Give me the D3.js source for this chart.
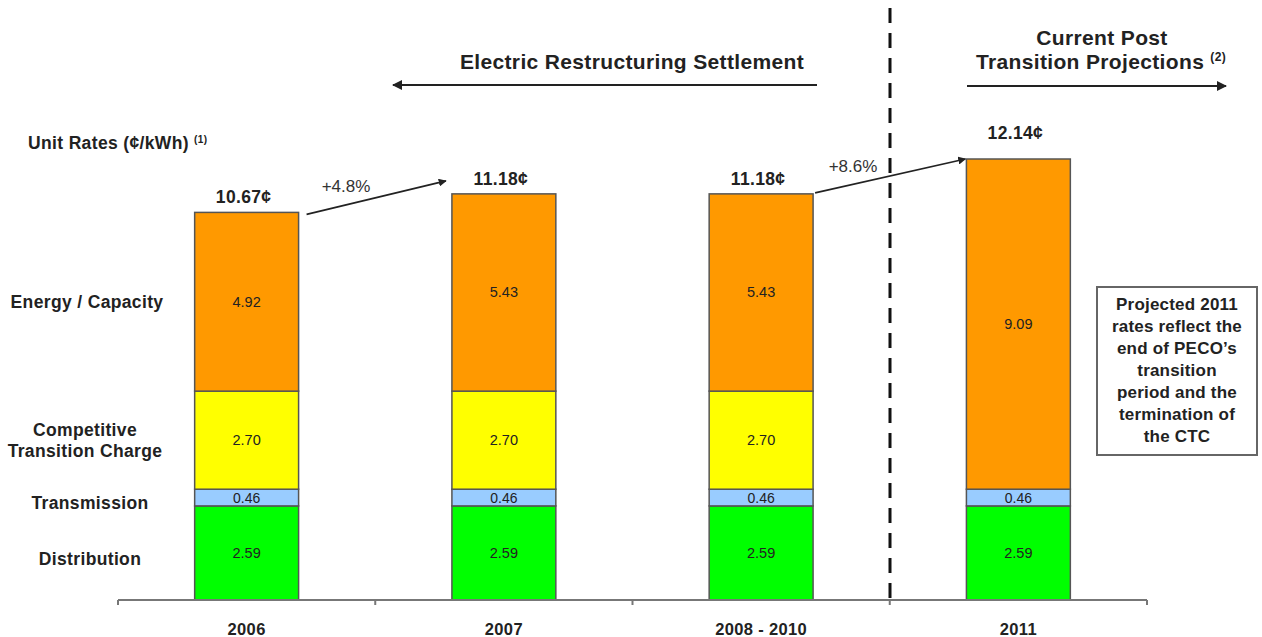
<!DOCTYPE html>
<html>
<head>
<meta charset="utf-8">
<script src="https://cdn.jsdelivr.net/npm/d3@7"></script>
<style>
  body { margin: 0; background: #fff; }
  svg { display: block; font-family: "Liberation Sans", Arial, sans-serif; }
</style>
</head>
<body>
<svg id="chart" width="1262" height="637"></svg>
<script>
// Unit rates (cents/kWh) by component
const categories = ["2006", "2007", "2008 - 2010", "2011"];
const distribution = [2.59, 2.59, 2.59, 2.59];
const transmission = [0.46, 0.46, 0.46, 0.46];
const ctc = [2.70, 2.70, 2.70, 0];
const energy = [4.92, 5.43, 5.43, 9.09];
const totals = ["10.67¢", "11.18¢", "11.18¢", "12.14¢"];
const changes = ["+4.8%", "+8.6%"];
const rowLabels = [["Energy / Capacity"], ["Competitive", "Transition Charge"], ["Transmission"], ["Distribution"]];
const noteLines = ["Projected 2011", "rates reflect the", "end of PECO\u2019s", "transition", "period and the", "termination of", "the CTC"];

const keys = ["distribution", "transmission", "ctc", "energy"];
const colors = { distribution: "#00FF00", transmission: "#99CCFF", ctc: "#FFFF00", energy: "#FF9900" };

const rows = categories.map((c, i) => ({
  cat: c,
  distribution: distribution[i],
  transmission: transmission[i],
  ctc: ctc[i],
  energy: energy[i]
}));

const svg = d3.select("#chart");
const baseY = 600;
const ink = "#222";
const boldLs = "0.35px"; // bold labels in the original are set a touch wide

const x = d3.scaleBand().domain(categories).range([118, 1147]).paddingInner(0.596).paddingOuter(0.298);
const y = d3.scaleLinear().domain([0, 12.14]).range([baseY, 159]);

const stack = d3.stack().keys(keys)(rows);

// bars
const layers = svg.append("g").selectAll("g").data(stack).join("g")
  .attr("fill", (d) => colors[d.key]);

layers.selectAll("rect").data((d) => d.filter((s) => s[1] - s[0] > 0)).join("rect")
  .attr("x", (d) => x(d.data.cat))
  .attr("y", (d) => y(d[1]))
  .attr("width", x.bandwidth())
  .attr("height", (d) => y(d[0]) - y(d[1]))
  .attr("stroke", "#555")
  .attr("stroke-width", 1.5);

// segment values
stack.forEach((layer) => {
  svg.append("g").selectAll("text").data(layer.filter((s) => s[1] - s[0] > 0)).join("text")
    .attr("x", (d) => x(d.data.cat) + x.bandwidth() / 2)
    .attr("y", (d) => (y(d[0]) + y(d[1])) / 2 + 5)
    .attr("text-anchor", "middle")
    .attr("font-size", layer.key === "transmission" ? 14 : 14.5)
    .attr("fill", ink)
    .text((d) => (d[1] - d[0]).toFixed(2));
});

// axis
const axisG = svg.append("g").attr("transform", `translate(0,${baseY})`);
axisG.append("line").attr("x1", 118).attr("x2", 1147).attr("stroke", "#777").attr("stroke-width", 2);
const step = x.step();
d3.range(5).forEach((k) => {
  const tx = 118 + k * step;
  axisG.append("line").attr("x1", tx).attr("x2", tx).attr("y1", 0).attr("y2", 5)
    .attr("stroke", "#777").attr("stroke-width", 2);
});
axisG.selectAll("text.tick").data(categories).join("text")
  .attr("class", "tick")
  .attr("x", (d) => x(d) + x.bandwidth() / 2)
  .attr("y", 35)
  .attr("text-anchor", "middle")
  .attr("font-size", 16.5).attr("font-weight", "bold").attr("fill", ink)
  .attr("letter-spacing", boldLs)
  .text((d) => d);

// totals
const totalVals = rows.map((r) => r.distribution + r.transmission + r.ctc + r.energy);
svg.append("g").selectAll("text").data(categories).join("text")
  .attr("x", (d) => x(d) + x.bandwidth() / 2 - 3)
  .attr("y", (d, i) => y(totalVals[i]) - (i === 3 ? 20 : 9))
  .attr("text-anchor", "middle")
  .attr("font-size", 17.5).attr("font-weight", "bold").attr("fill", ink)
  .attr("letter-spacing", boldLs)
  .text((d, i) => totals[i]);

// arrow markers
const defs = svg.append("defs");
defs.append("marker").attr("id", "ah").attr("viewBox", "0 0 10 10")
  .attr("refX", 9).attr("refY", 5).attr("markerWidth", 5).attr("markerHeight", 5)
  .attr("orient", "auto-start-reverse").attr("markerUnits", "strokeWidth")
  .append("path").attr("d", "M0,0L10,5L0,10z").attr("fill", ink);

// growth arrows
const growth = [
  { from: 0, to: 1, label: changes[0], dy1: -2, dy2: 13, lx: 346, ly: 192 },
  { from: 2, to: 3, label: changes[1], dy1: 1, dy2: 0, lx: 853, ly: 172 }
];
growth.forEach((g) => {
  const x1 = x(categories[g.from]) + x.bandwidth() + (g.from === 0 ? 8 : 2);
  const y1 = y(totalVals[g.from]) - g.dy1;
  const x2 = x(categories[g.to]) - (g.from === 0 ? 6 : 1);
  const y2 = y(totalVals[g.to]) - g.dy2;
  svg.append("line").attr("x1", x1).attr("y1", y1).attr("x2", x2).attr("y2", y2)
    .attr("stroke", ink).attr("stroke-width", 1.6).attr("marker-end", "url(#ah)");
  svg.append("text").attr("x", g.lx).attr("y", g.ly).attr("text-anchor", "middle")
    .attr("font-size", 17).attr("fill", "#333").text(g.label);
});

// divider
svg.append("line").attr("x1", 890).attr("x2", 890).attr("y1", 8).attr("y2", 606)
  .attr("stroke", "#111").attr("stroke-width", 3).attr("stroke-dasharray", "15,10");

// period headers
svg.append("text").attr("x", 632).attr("y", 69).attr("text-anchor", "middle")
  .attr("font-size", 21).attr("font-weight", "bold").attr("fill", ink)
  .attr("letter-spacing", boldLs)
  .text("Electric Restructuring Settlement");
svg.append("line").attr("x1", 817).attr("x2", 393).attr("y1", 85).attr("y2", 85)
  .attr("stroke", ink).attr("stroke-width", 2).attr("marker-end", "url(#ah)");

svg.append("text").attr("x", 1102).attr("y", 45).attr("text-anchor", "middle")
  .attr("font-size", 21).attr("font-weight", "bold").attr("fill", ink)
  .attr("letter-spacing", boldLs)
  .text("Current Post");
const t2 = svg.append("text").attr("x", 1101).attr("y", 69).attr("text-anchor", "middle")
  .attr("font-size", 21).attr("font-weight", "bold").attr("fill", ink)
  .attr("letter-spacing", boldLs);
t2.append("tspan").text("Transition Projections ");
t2.append("tspan").attr("font-size", 12).attr("dy", -8).text("(2)");
svg.append("line").attr("x1", 967).attr("x2", 1226).attr("y1", 86).attr("y2", 86)
  .attr("stroke", ink).attr("stroke-width", 2).attr("marker-end", "url(#ah)");

// unit label
const ut = svg.append("text").attr("x", 28).attr("y", 149)
  .attr("font-size", 17.5).attr("font-weight", "bold").attr("fill", ink)
  .attr("letter-spacing", boldLs);
ut.append("tspan").text("Unit Rates (¢/kWh) ");
ut.append("tspan").attr("font-size", 10).attr("dy", -6).text("(1)");

// row labels, centred on the 2006 segments
const rowKeys = ["energy", "ctc", "transmission", "distribution"];
const rowCx = [87, 85, 90, 90];
const rowShift = { energy: 0, ctc: 0, transmission: 5, distribution: 6 };
rowLabels.forEach((lines, i) => {
  const seg = stack.find((s) => s.key === rowKeys[i])[0];
  const cy = (y(seg[0]) + y(seg[1])) / 2;
  const t = svg.append("text").attr("text-anchor", "middle")
    .attr("font-size", 17.5).attr("font-weight", "bold").attr("fill", ink)
    .attr("letter-spacing", boldLs);
  lines.forEach((ln, j) => {
    t.append("tspan").attr("x", rowCx[i])
      .attr("y", cy + 6 + (j - (lines.length - 1) / 2) * 21 + rowShift[rowKeys[i]])
      .text(ln);
  });
});

// note box
svg.append("rect").attr("x", 1097).attr("y", 287).attr("width", 160).attr("height", 168)
  .attr("fill", "#fff").attr("stroke", "#666").attr("stroke-width", 2);
const nt = svg.append("text").attr("text-anchor", "middle")
  .attr("font-size", 17).attr("font-weight", "bold").attr("fill", ink)
  .attr("letter-spacing", "0.2px");
noteLines.forEach((ln, j) => {
  nt.append("tspan").attr("x", 1177).attr("y", 310 + j * 22).text(ln);
});
</script>
</body>
</html>
